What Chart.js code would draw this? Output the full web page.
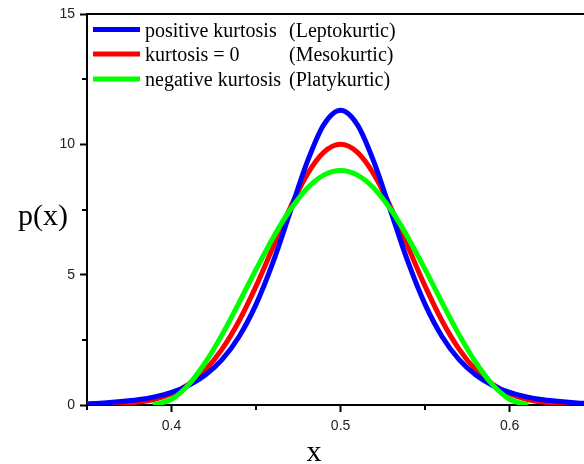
<!DOCTYPE html>
<html>
<head>
<meta charset="utf-8">
<script src="https://cdn.jsdelivr.net/npm/chart.js@4.4.1/dist/chart.umd.min.js"></script>
<style>
  html, body { margin: 0; padding: 0; background: #fff; overflow: hidden; }
  #wrap { width: 584px; height: 464px; }
</style>
</head>
<body>
<div id="wrap"><canvas id="chart"></canvas></div>
<script>
// values
const xValues = [0.35, 0.36, 0.37, 0.38, 0.39, 0.40, 0.41, 0.42, 0.43, 0.44, 0.45, 0.46, 0.47, 0.48, 0.49, 0.50,
                 0.51, 0.52, 0.53, 0.54, 0.55, 0.56, 0.57, 0.58, 0.59, 0.60, 0.61, 0.62, 0.63, 0.64, 0.65];
const blueValues = [0.05, 0.08, 0.13, 0.20, 0.31, 0.48, 0.75, 1.15, 1.75, 2.63, 3.86, 5.47, 7.37, 9.28, 10.75, 11.31,
                    10.75, 9.28, 7.37, 5.47, 3.86, 2.63, 1.75, 1.15, 0.75, 0.48, 0.31, 0.20, 0.13, 0.08, 0.05];
const redValues = [0.01, 0.02, 0.05, 0.11, 0.22, 0.43, 0.79, 1.34, 2.15, 3.23, 4.56, 6.05, 7.54, 8.82, 9.69, 10.0,
                   9.69, 8.82, 7.54, 6.05, 4.56, 3.23, 2.15, 1.34, 0.79, 0.43, 0.22, 0.11, 0.05, 0.02, 0.01];
const xGreen = [0.389, 0.40, 0.41, 0.42, 0.43, 0.44, 0.45, 0.46, 0.47, 0.48, 0.49, 0.50,
                0.51, 0.52, 0.53, 0.54, 0.55, 0.56, 0.57, 0.58, 0.59, 0.60, 0.611];
const greenValues = [0, 0.22, 0.77, 1.63, 2.71, 3.93, 5.20, 6.41, 7.47, 8.30, 8.82, 9.0,
                     8.82, 8.30, 7.47, 6.41, 5.20, 3.93, 2.71, 1.63, 0.77, 0.22, 0];

const seriesNames = ["positive kurtosis", "kurtosis = 0", "negative kurtosis"];
const seriesTypes = ["(Leptokurtic)", "(Mesokurtic)", "(Platykurtic)"];
const seriesColors = ["#0000ff", "#ff0000", "#00ff00"];

const xTicks = [0.4, 0.5, 0.6];
const xMinor = [0.35, 0.45, 0.55];
const yTicks = [0, 5, 10, 15];
const yMinor = [2.5, 7.5, 12.5];

const toPoints = (xs, ys) => xs.map((x, i) => ({ x: x, y: ys[i] }));

const serif = '"Liberation Serif", "Times New Roman", Times, serif';

const framePlugin = {
  id: 'frame',
  afterDraw(chart) {
    const { ctx, chartArea: a, scales: { x, y } } = chart;
    ctx.save();
    ctx.strokeStyle = '#000';
    ctx.lineWidth = 2;
    ctx.beginPath();
    ctx.moveTo(a.left - 1, a.top);
    ctx.lineTo(a.right, a.top);
    xMinor.forEach(v => {
      const px = Math.round(x.getPixelForValue(v));
      ctx.moveTo(px, a.bottom);
      ctx.lineTo(px, a.bottom + 5);
    });
    yMinor.forEach(v => {
      const py = Math.round(y.getPixelForValue(v));
      ctx.moveTo(a.left, py);
      ctx.lineTo(a.left - 5, py);
    });
    ctx.stroke();

    // legend
    const rows = [29.5, 54, 79];
    ctx.lineWidth = 5;
    ctx.font = '20px ' + serif;
    ctx.textBaseline = 'middle';
    ctx.fillStyle = '#000';
    rows.forEach((ry, i) => {
      ctx.strokeStyle = seriesColors[i];
      ctx.beginPath();
      ctx.moveTo(93, ry);
      ctx.lineTo(140, ry);
      ctx.stroke();
      ctx.fillText(seriesNames[i], 145, ry + 2);
      ctx.fillText(seriesTypes[i], 289, ry + 2);
    });

    // axis titles
    ctx.font = '30px ' + serif;
    ctx.textAlign = 'left';
    ctx.fillText('p(x)', 18, 217);
    ctx.textAlign = 'center';
    ctx.textBaseline = 'alphabetic';
    ctx.fillText('x', 314, 461);
    ctx.restore();
  }
};

const tickFont = { family: '"Liberation Sans", Arial, sans-serif', size: 14 };

new Chart(document.getElementById('chart'), {
  type: 'line',
  data: {
    datasets: [
      { label: seriesNames[0], data: toPoints(xValues, blueValues), borderColor: seriesColors[0], order: 1 },
      { label: seriesNames[1], data: toPoints(xValues, redValues), borderColor: seriesColors[1], order: 2 },
      { label: seriesNames[2], data: toPoints(xGreen, greenValues), borderColor: seriesColors[2], order: 0 }
    ]
  },
  options: {
    animation: false,
    responsive: true,
    maintainAspectRatio: false,
    layout: { padding: { top: 14, right: 0, left: 0, bottom: 0 } },
    elements: {
      point: { radius: 0 },
      line: { borderWidth: 5, cubicInterpolationMode: 'monotone', fill: false }
    },
    plugins: { legend: { display: false }, tooltip: { enabled: false } },
    scales: {
      x: {
        type: 'linear',
        min: 0.35,
        max: 0.644,
        afterFit(s) { s.height = 59; },
        afterBuildTicks(s) { s.ticks = xTicks.map(v => ({ value: v })); },
        grid: { drawOnChartArea: false, tickLength: 7, tickColor: '#000', tickWidth: 2 },
        border: { color: '#000', width: 2 },
        ticks: { font: tickFont, color: '#222', padding: 6, maxRotation: 0, autoSkip: false,
                 callback: v => v.toFixed(1) }
      },
      y: {
        type: 'linear',
        min: 0,
        max: 15,
        afterFit(s) { s.width = 87; },
        afterBuildTicks(s) { s.ticks = yTicks.map(v => ({ value: v })); },
        grid: { drawOnChartArea: false, tickLength: 7, tickColor: '#000', tickWidth: 2 },
        border: { color: '#000', width: 2 },
        ticks: { font: tickFont, color: '#222', padding: 5, autoSkip: false,
                 callback: v => String(v) }
      }
    }
  },
  plugins: [framePlugin]
});
</script>
</body>
</html>
